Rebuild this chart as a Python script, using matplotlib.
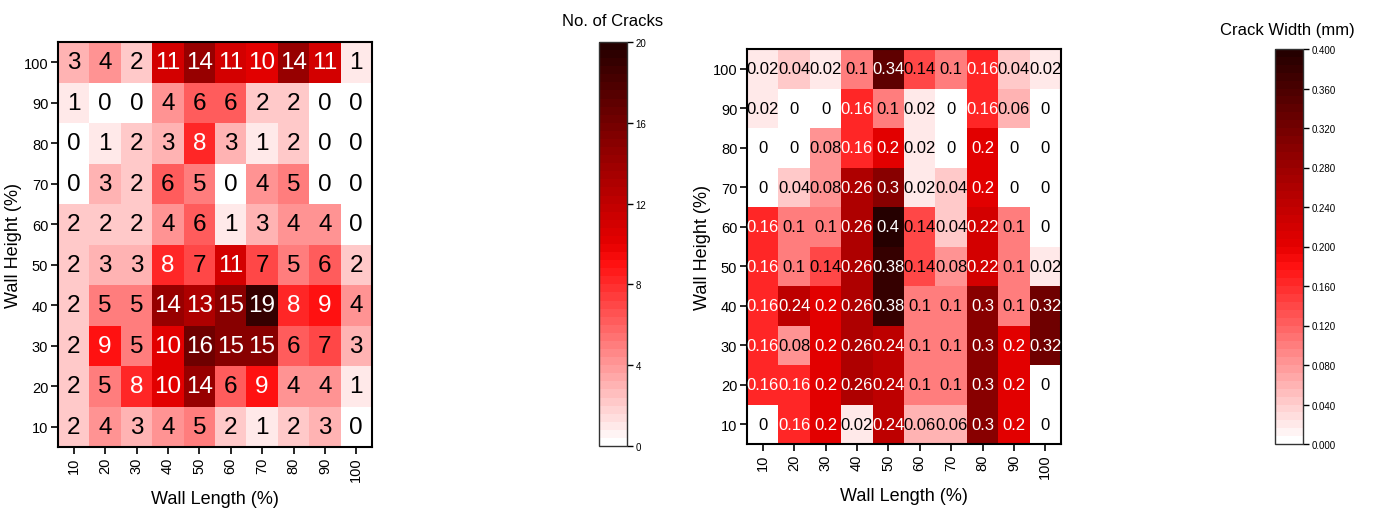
import numpy as np
import matplotlib
matplotlib.use("Agg")
import matplotlib.pyplot as plt
from matplotlib.colors import LinearSegmentedColormap

# ---------------- data ----------------
wall_length = [10, 20, 30, 40, 50, 60, 70, 80, 90, 100]
wall_height = [10, 20, 30, 40, 50, 60, 70, 80, 90, 100]

# rows: wall height 10 -> 100 ; columns: wall length 10 -> 100
cracks_h10 = [2, 4, 3, 4, 5, 2, 1, 2, 3, 0]
cracks_h20 = [2, 5, 8, 10, 14, 6, 9, 4, 4, 1]
cracks_h30 = [2, 9, 5, 10, 16, 15, 15, 6, 7, 3]
cracks_h40 = [2, 5, 5, 14, 13, 15, 19, 8, 9, 4]
cracks_h50 = [2, 3, 3, 8, 7, 11, 7, 5, 6, 2]
cracks_h60 = [2, 2, 2, 4, 6, 1, 3, 4, 4, 0]
cracks_h70 = [0, 3, 2, 6, 5, 0, 4, 5, 0, 0]
cracks_h80 = [0, 1, 2, 3, 8, 3, 1, 2, 0, 0]
cracks_h90 = [1, 0, 0, 4, 6, 6, 2, 2, 0, 0]
cracks_h100 = [3, 4, 2, 11, 14, 11, 10, 14, 11, 1]

width_h10 = [0, 0.16, 0.2, 0.02, 0.24, 0.06, 0.06, 0.3, 0.2, 0]
width_h20 = [0.16, 0.16, 0.2, 0.26, 0.24, 0.1, 0.1, 0.3, 0.2, 0]
width_h30 = [0.16, 0.08, 0.2, 0.26, 0.24, 0.1, 0.1, 0.3, 0.2, 0.32]
width_h40 = [0.16, 0.24, 0.2, 0.26, 0.38, 0.1, 0.1, 0.3, 0.1, 0.32]
width_h50 = [0.16, 0.1, 0.14, 0.26, 0.38, 0.14, 0.08, 0.22, 0.1, 0.02]
width_h60 = [0.16, 0.1, 0.1, 0.26, 0.4, 0.14, 0.04, 0.22, 0.1, 0]
width_h70 = [0, 0.04, 0.08, 0.26, 0.3, 0.02, 0.04, 0.2, 0, 0]
width_h80 = [0, 0, 0.08, 0.16, 0.2, 0.02, 0, 0.2, 0, 0]
width_h90 = [0.02, 0, 0, 0.16, 0.1, 0.02, 0, 0.16, 0.06, 0]
width_h100 = [0.02, 0.04, 0.02, 0.1, 0.34, 0.14, 0.1, 0.16, 0.04, 0.02]

cracks = np.array([cracks_h10, cracks_h20, cracks_h30, cracks_h40, cracks_h50,
                   cracks_h60, cracks_h70, cracks_h80, cracks_h90, cracks_h100])
widths = np.array([width_h10, width_h20, width_h30, width_h40, width_h50,
                   width_h60, width_h70, width_h80, width_h90, width_h100])

cracks_ticks = [0, 4, 8, 12, 16, 20]
width_ticks = [0.0, 0.04, 0.08, 0.12, 0.16, 0.2, 0.24, 0.28, 0.32, 0.36, 0.4]

# ---------------- fonts ----------------
plt.rcParams['font.family'] = ['Liberation Sans', 'DejaVu Sans']

cmap = LinearSegmentedColormap.from_list(
    'wr', [(0.0, '#FFFFFF'), (0.45, '#FF1010'), (0.5, '#E60000'),
           (0.75, '#8A0000'), (1.0, '#250000')], N=50)

W, H = 1373, 510
fig = plt.figure(figsize=(W / 100, H / 100), dpi=100)


def px(x0, y0, x1, y1):
    return [x0 / W, 1 - y1 / H, (x1 - x0) / W, (y1 - y0) / H]


def heat(ax, data, vmax, thr, fmt, fs):
    edges = np.arange(5, 106, 10)
    m = ax.pcolormesh(edges, edges, data, cmap=cmap, vmin=0, vmax=vmax)
    for i, h in enumerate(wall_height):
        for j, l in enumerate(wall_length):
            v = data[i, j]
            ax.text(l, h, fmt(v), ha='center', va='center', fontsize=fs,
                    color='white' if v >= thr else 'black')
    ax.set_xlim(5, 105)
    ax.set_ylim(5, 105)
    ax.set_xticks(wall_length)
    ax.set_yticks(wall_height)
    ax.set_xticklabels([str(v) for v in wall_length], rotation=90, fontsize=10.5)
    ax.set_yticklabels([str(v) for v in wall_height], fontsize=10.5)
    ax.tick_params(direction='out', length=5, width=1.2, pad=2)
    for s in ax.spines.values():
        s.set_linewidth(1.5)
    ax.set_xlabel('Wall Length (%)', fontsize=13, labelpad=6)
    ax.set_ylabel('Wall Height (%)', fontsize=13, labelpad=1)
    return m


def cbar(cax, m, ticks, fmt):
    cb = fig.colorbar(m, cax=cax, ticks=ticks)
    cb.ax.set_yticklabels([fmt(t) for t in ticks], fontsize=7)
    cb.ax.tick_params(direction='out', length=4, width=1, pad=2)
    cb.outline.set_linewidth(1.0)
    cb.outline.set_edgecolor('#333333')
    return cb


ax1 = fig.add_axes(px(58, 43, 372, 448))
m1 = heat(ax1, cracks, 20, 8, lambda v: f'{v:d}', 17.5)
cax1 = fig.add_axes(px(599, 43, 627, 447))
cbar(cax1, m1, cracks_ticks, lambda t: f'{t:d}')
fig.text(613 / W, 1 - 22 / H, 'No. of Cracks', ha='center', va='center', fontsize=12)

ax2 = fig.add_axes(px(747, 50, 1061, 445))
m2 = heat(ax2, widths, 0.4, 0.155, lambda v: f'{v:g}', 12)
cax2 = fig.add_axes(px(1275, 50, 1303, 445))
cbar(cax2, m2, width_ticks, lambda t: f'{t:.3f}')
fig.text(1287 / W, 1 - 30 / H, 'Crack Width (mm)', ha='center', va='center', fontsize=12)

fig.savefig('out.png', dpi=100)
